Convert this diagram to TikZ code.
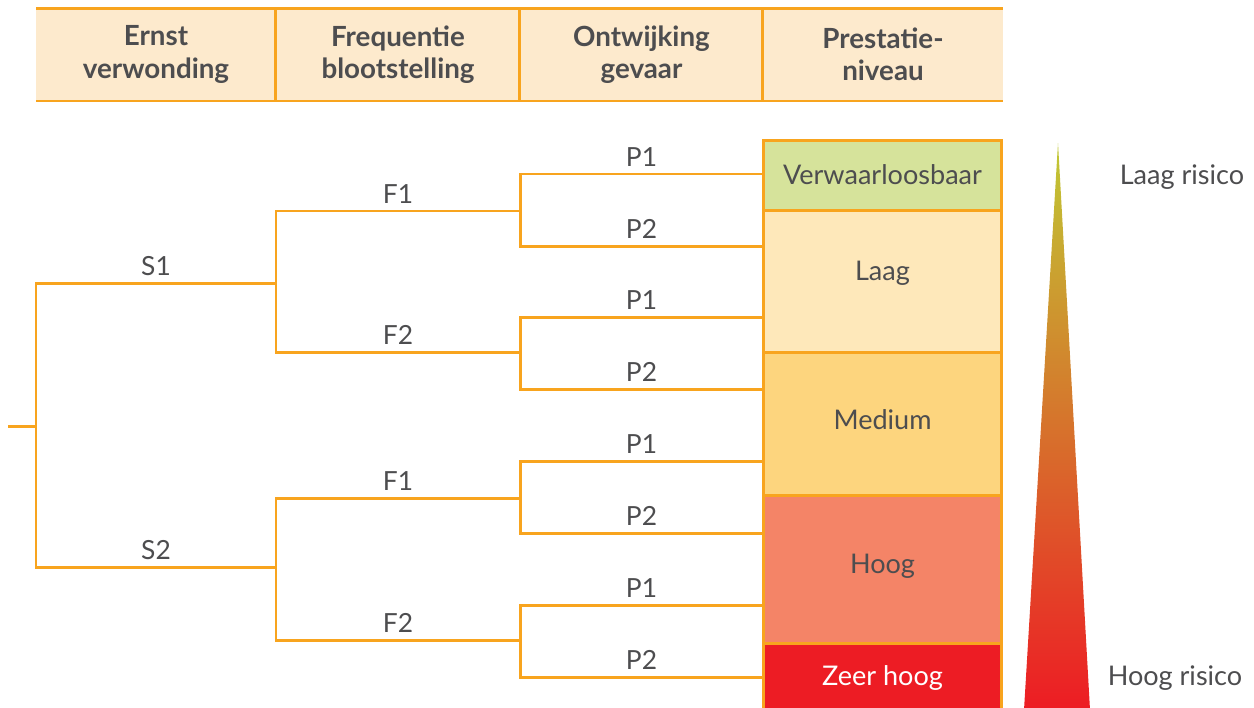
\documentclass[tikz,border=0pt]{standalone}
\usepackage{fontspec}
\setmainfont{Lato}
\usetikzlibrary{positioning}
\definecolor{lijn}{HTML}{F8A41E}
\definecolor{kop}{HTML}{FDEACD}
\definecolor{tekst}{HTML}{4D4D4F}
\definecolor{groen}{HTML}{D6E39B}
\definecolor{laag}{HTML}{FEE8BA}
\definecolor{medium}{HTML}{FDD57E}
\definecolor{hoog}{HTML}{F48467}
\definecolor{zeerhoog}{HTML}{ED1C24}
\definecolor{risicotop}{HTML}{C0C934}
\definecolor{risicomidden}{HTML}{D6882C}
\tikzstyle{Tak} = [draw=lijn, line width=1.7pt]
\tikzstyle{Kop} = [rectangle,
                   minimum height=1.86cm,
                   inner sep=0pt,
                   outer sep=0pt,
                   text centered,
                   align=center,
                   fill=kop,
                   text=tekst,
                   font=\bfseries\fontsize{15.8}{18.5}\selectfont]
\tikzstyle{Label} = [inner sep=0pt,
                     above=3.5pt,
                     text=tekst,
                     font=\fontsize{15}{17}\selectfont]
\tikzstyle{Niveau} = [rectangle,
                      minimum width=4.78cm,
                      inner sep=0pt,
                      text centered,
                      draw=lijn,
                      line width=1.7pt,
                      text=tekst,
                      font=\fontsize{15.4}{17}\selectfont]
\tikzstyle{Risico} = [text=tekst, font=\fontsize{15.4}{17}\selectfont]

\begin{document}
\begin{tikzpicture}[x=0.02cm, y=-0.02cm]
        \clip (0,0) rectangle (1254,707);

        % kop van de tabel
        \node (K1) [Kop, minimum width=4.8cm] at (156,54.5) {Ernst\\verwonding};
        \node (K2) [Kop, minimum width=4.88cm] at (398,54.5) {Frequentie\\blootstelling};
        \node (K3) [Kop, minimum width=4.86cm] at (641.5,54.5) {Ontwijking\\gevaar};
        \node (K4) [Kop, minimum width=4.8cm] at (883,54.5) {Prestatie-\\niveau};
        \draw[Tak] (K1.north west) -- (K4.north east);
        \draw[Tak] (K1.south west) -- (K4.south east);
        \draw[Tak] (K1.north east) -- (K1.south east);
        \draw[Tak] (K2.north east) -- (K2.south east);
        \draw[Tak] (K3.north east) -- (K3.south east);

        % niveaus
        \node (PLa) [Niveau, fill=groen, minimum height=1.4cm] at (882.5,175) {Verwaarloosbaar};
        \node (PLb) [Niveau, fill=laag, minimum height=2.84cm] at (882.5,281) {};
        \node (PLbT) [Risico] at (882.5,273) {Laag};
        \node (PLc) [Niveau, fill=medium, minimum height=2.86cm] at (882.5,423.5) {};
        \node (PLcT) [Risico] at (882.5,420) {Medium};
        \node (PLd) [Niveau, fill=hoog, minimum height=2.96cm] at (882.5,569) {};
        \node (PLdT) [Risico] at (882.5,566) {Hoog};
        \node (PLe) [Niveau, fill=zeerhoog, minimum height=1.6cm] at (882.5,683) {};
        \node (PLeT) [Risico, text=white] at (882.5,678) {Zeer hoog};

        % boom
        \coordinate (Start) at (8,426);
        \coordinate (S) at (36,426);
        \coordinate (S1) at (276,283);
        \coordinate (S2) at (276,567);
        \coordinate (S1F1) at (520,211);
        \coordinate (S1F2) at (520,352);
        \coordinate (S2F1) at (520,498);
        \coordinate (S2F2) at (520,640);
        \coordinate (P1) at (763,174);
        \coordinate (P2) at (763,246);
        \coordinate (P3) at (763,317);
        \coordinate (P4) at (763,389);
        \coordinate (P5) at (763,461);
        \coordinate (P6) at (763,533);
        \coordinate (P7) at (763,605);
        \coordinate (P8) at (763,677);

        \draw[Tak] (Start) -- (S);
        \draw[Tak] (S) |- node[Label, pos=0.75] {S1} (S1);
        \draw[Tak] (S) |- node[Label, pos=0.75] {S2} (S2);

        \draw[Tak] (S1) |- node[Label, pos=0.75] {F1} (S1F1);
        \draw[Tak] (S1) |- node[Label, pos=0.75] {F2} (S1F2);
        \draw[Tak] (S2) |- node[Label, pos=0.75] {F1} (S2F1);
        \draw[Tak] (S2) |- node[Label, pos=0.75] {F2} (S2F2);

        \draw[Tak] (S1F1) |- node[Label, pos=0.75] {P1} (P1);
        \draw[Tak] (S1F1) |- node[Label, pos=0.75] {P2} (P2);
        \draw[Tak] (S1F2) |- node[Label, pos=0.75] {P1} (P3);
        \draw[Tak] (S1F2) |- node[Label, pos=0.75] {P2} (P4);
        \draw[Tak] (S2F1) |- node[Label, pos=0.75] {P1} (P5);
        \draw[Tak] (S2F1) |- node[Label, pos=0.75] {P2} (P6);
        \draw[Tak] (S2F2) |- node[Label, pos=0.75] {P1} (P7);
        \draw[Tak] (S2F2) |- node[Label, pos=0.75] {P2} (P8);

        % risico driehoek
        \shade[top color=risicotop, middle color=risicomidden, bottom color=zeerhoog]
            (1024,710) -- (1058,143) -- (1090,710) -- cycle;
        \node (LR) [Risico] at (1182,177) {Laag risico};
        \node (HR) [Risico] at (1175,678) {Hoog risico};
\end{tikzpicture}
\end{document}
